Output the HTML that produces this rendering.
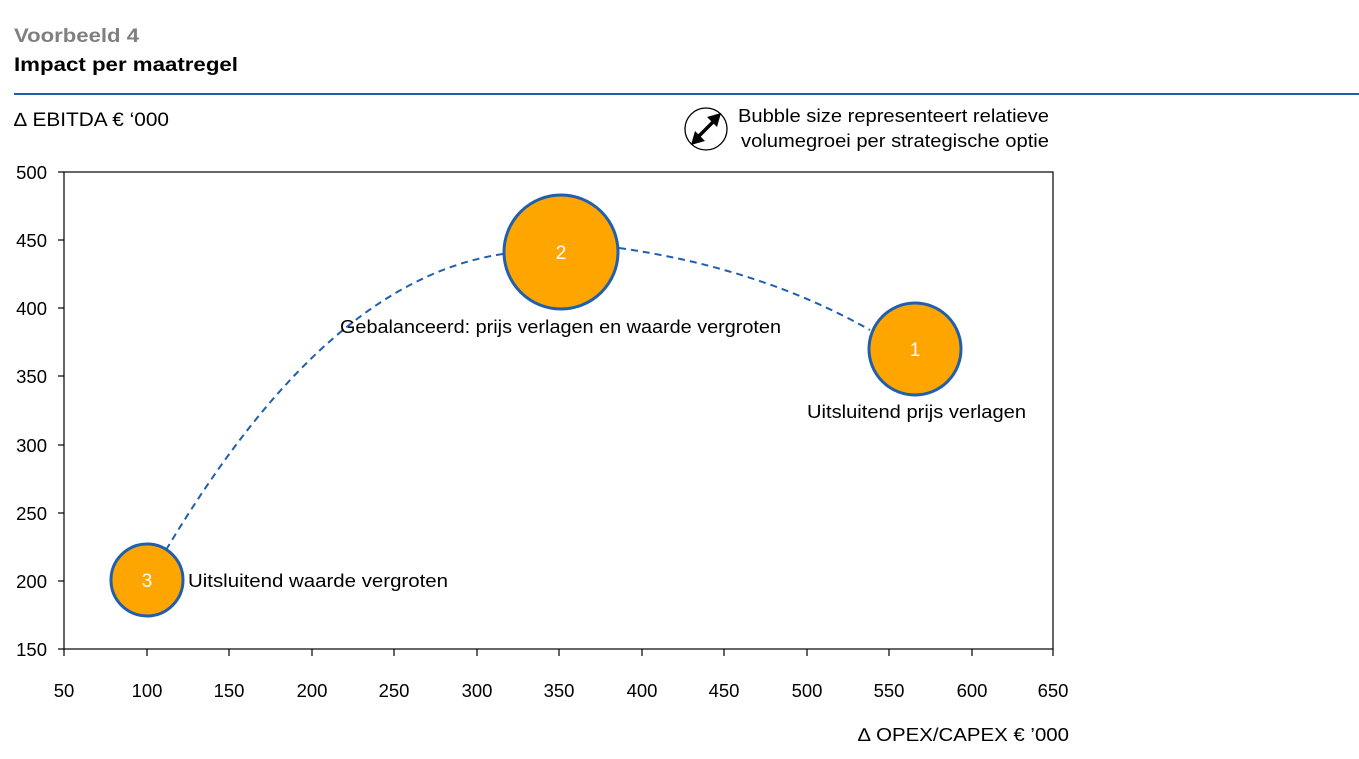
<!DOCTYPE html>
<html><head><meta charset="utf-8"><style>
html,body{margin:0;padding:0;background:#fff;}
svg{display:block;font-family:"Liberation Sans",sans-serif;}
</style></head><body>
<svg width="1359" height="759" viewBox="0 0 1359 759" xmlns="http://www.w3.org/2000/svg">
<text x="14" y="42" font-size="19" font-weight="bold" fill="#808080" textLength="125" lengthAdjust="spacingAndGlyphs">Voorbeeld 4</text>
<text x="14" y="71" font-size="19" font-weight="bold" fill="#000" textLength="224" lengthAdjust="spacingAndGlyphs">Impact per maatregel</text>
<rect x="14" y="93" width="1345" height="2" fill="#1F5FAD"/>
<text x="14" y="126" font-size="19" fill="#000" textLength="155" lengthAdjust="spacingAndGlyphs">∆ EBITDA € ‘000</text>
<circle cx="706" cy="129" r="21" fill="none" stroke="#000" stroke-width="1.3"/>
<line x1="696" y1="139" x2="716" y2="119" stroke="#000" stroke-width="3.5"/>
<polygon points="721,113 707,117 717,127" fill="#000"/>
<polygon points="691,145 695,131 705,141" fill="#000"/>
<text x="738" y="122" font-size="18" textLength="311" lengthAdjust="spacingAndGlyphs">Bubble size representeert relatieve</text>
<text x="741" y="147" font-size="18" textLength="308" lengthAdjust="spacingAndGlyphs">volumegroei per strategische optie</text>
<rect x="64" y="172" width="989" height="477" fill="none" stroke="#000" stroke-width="1.2"/>
<g stroke="#000" stroke-width="1.2">
<line x1="58" y1="172" x2="64" y2="172"/><line x1="58" y1="240" x2="64" y2="240"/>
<line x1="58" y1="308" x2="64" y2="308"/><line x1="58" y1="376" x2="64" y2="376"/>
<line x1="58" y1="445" x2="64" y2="445"/><line x1="58" y1="513" x2="64" y2="513"/>
<line x1="58" y1="581" x2="64" y2="581"/><line x1="58" y1="649" x2="64" y2="649"/>
<line x1="64" y1="649" x2="64" y2="656"/><line x1="147" y1="649" x2="147" y2="656"/>
<line x1="229" y1="649" x2="229" y2="656"/><line x1="312" y1="649" x2="312" y2="656"/>
<line x1="394" y1="649" x2="394" y2="656"/><line x1="477" y1="649" x2="477" y2="656"/>
<line x1="559" y1="649" x2="559" y2="656"/><line x1="642" y1="649" x2="642" y2="656"/>
<line x1="724" y1="649" x2="724" y2="656"/><line x1="807" y1="649" x2="807" y2="656"/>
<line x1="889" y1="649" x2="889" y2="656"/><line x1="972" y1="649" x2="972" y2="656"/>
<line x1="1053" y1="649" x2="1053" y2="656"/>
</g>
<g font-size="18.5" text-anchor="end">
<text x="47" y="179">500</text><text x="47" y="247">450</text><text x="47" y="315">400</text>
<text x="47" y="383">350</text><text x="47" y="452">300</text><text x="47" y="520">250</text>
<text x="47" y="588">200</text><text x="47" y="656">150</text>
</g>
<g font-size="18.5" text-anchor="middle">
<text x="64" y="697">50</text><text x="147" y="697">100</text><text x="229" y="697">150</text>
<text x="312" y="697">200</text><text x="394" y="697">250</text><text x="477" y="697">300</text>
<text x="559" y="697">350</text><text x="642" y="697">400</text><text x="724" y="697">450</text>
<text x="807" y="697">500</text><text x="889" y="697">550</text><text x="972" y="697">600</text>
<text x="1053" y="697">650</text>
</g>
<text x="858" y="741" font-size="18.5" textLength="211" lengthAdjust="spacingAndGlyphs">∆ OPEX/CAPEX € ’000</text>
<g fill="none" stroke="#1F5FAD" stroke-width="2" stroke-dasharray="7,5">
<path d="M166,550 C250,410 360,275 503,254"/>
<path d="M619,248 Q760,268 870,330"/>
</g>
<g fill="#FFA500" stroke="#1F5FAD" stroke-width="3">
<circle cx="147" cy="580" r="36"/>
<circle cx="561" cy="252" r="57"/>
<circle cx="915" cy="349" r="46"/>
</g>
<g fill="#fff" font-size="19" text-anchor="middle">
<text x="147" y="587">3</text><text x="561" y="259">2</text><text x="915" y="356">1</text>
</g>
<g font-size="18.5">
<text x="188" y="587" textLength="260" lengthAdjust="spacingAndGlyphs">Uitsluitend waarde vergroten</text>
<text x="340" y="333" textLength="441" lengthAdjust="spacingAndGlyphs">Gebalanceerd: prijs verlagen en waarde vergroten</text>
<text x="807" y="418" textLength="219" lengthAdjust="spacingAndGlyphs">Uitsluitend prijs verlagen</text>
</g>
</svg>
</body></html>
